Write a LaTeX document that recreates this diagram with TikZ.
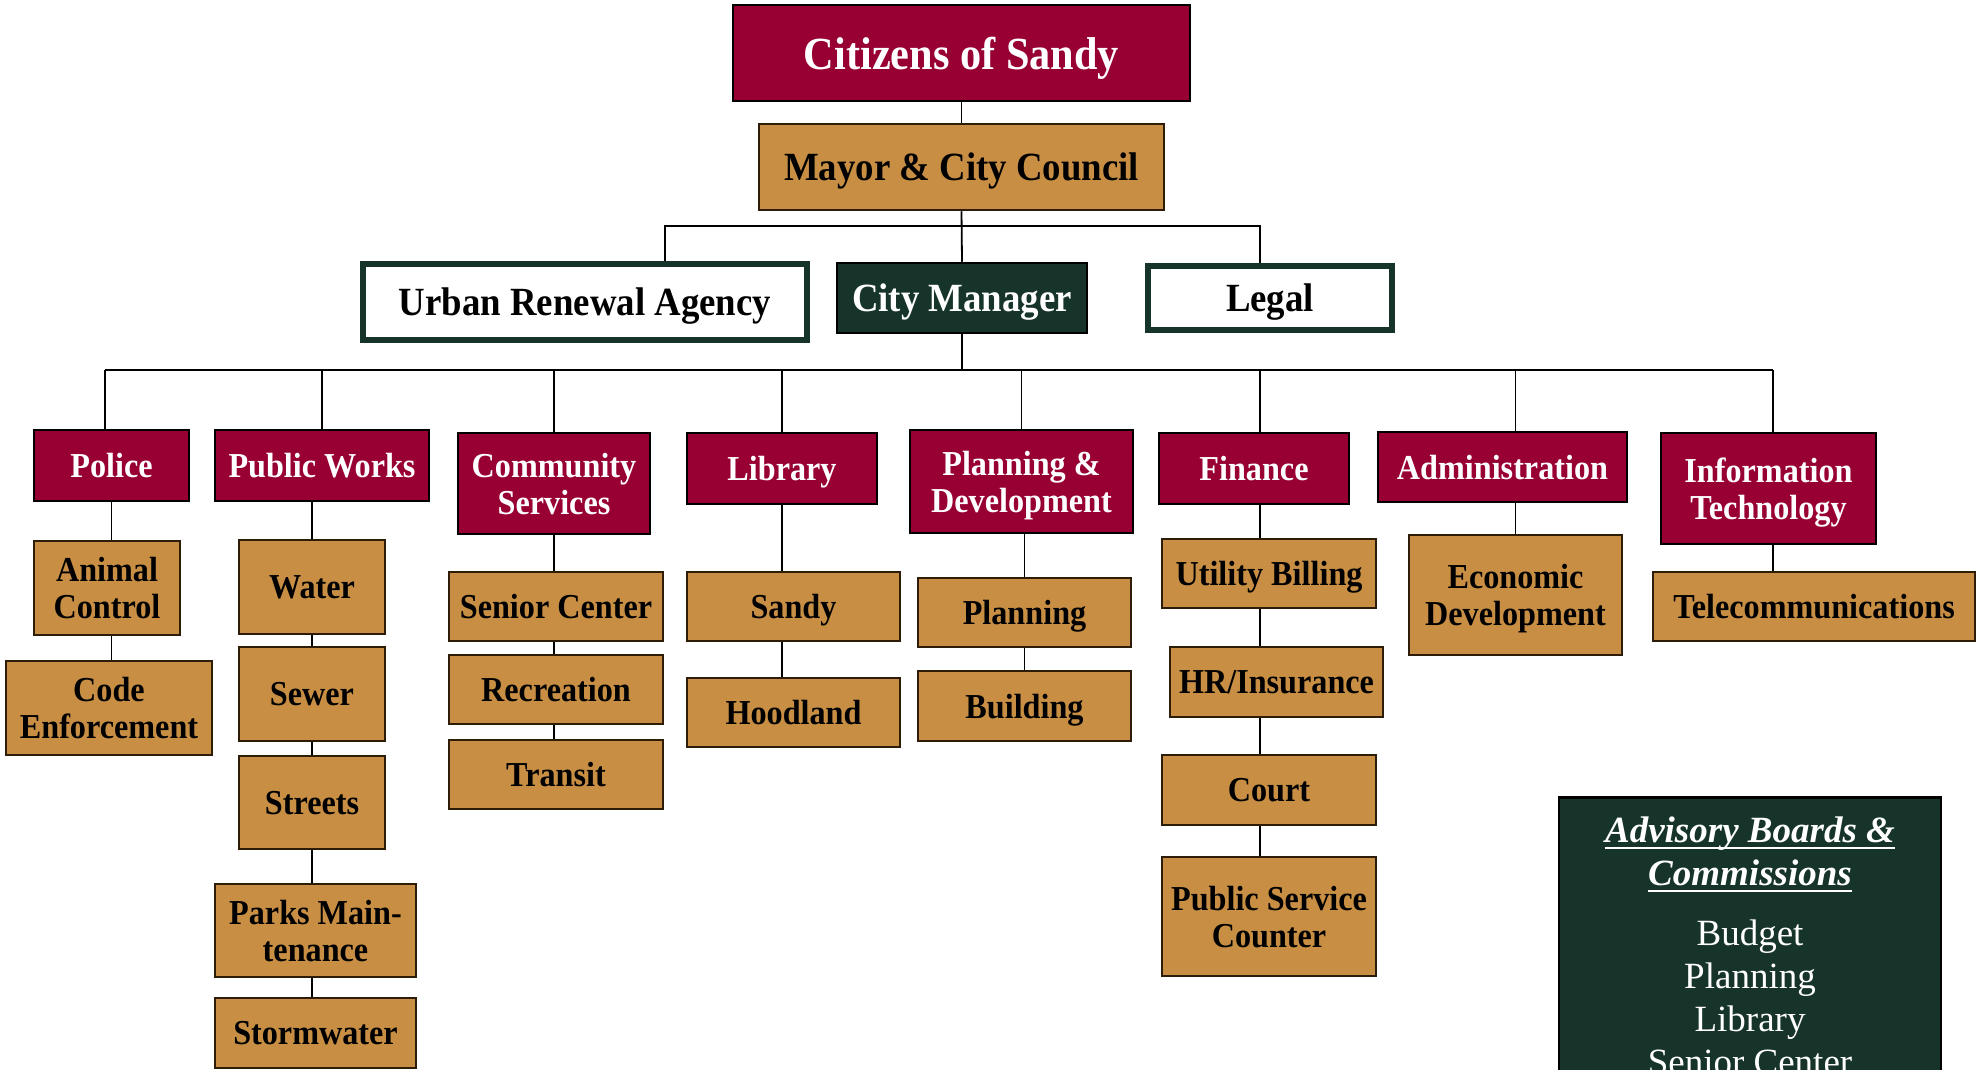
\documentclass[tikz,border=0pt]{standalone}
\usepackage{fontspec}
\newfontfamily\orgfont{Liberation Serif}[FakeStretch=0.92]
\newfontfamily\advfont{Liberation Serif}

\definecolor{deptred}{RGB}{152,0,51}
\definecolor{unittan}{RGB}{200,143,68}
\definecolor{mgrgreen}{RGB}{23,52,43}
\definecolor{tanedge}{RGB}{45,28,8}

\tikzset{
  chartbox/.style={rectangle, inner sep=0pt, align=center, text depth=0pt},
  toptitle/.style={chartbox, draw=black, line width=2.5pt, fill=deptred, text=white,
    font=\orgfont\bfseries\fontsize{46}{52}\selectfont},
  council/.style={chartbox, draw=tanedge, line width=2.5pt, fill=unittan, text=black,
    font=\orgfont\bfseries\fontsize{40}{46}\selectfont},
  outlined/.style={chartbox, draw=mgrgreen, line width=6pt, fill=white, text=black,
    font=\orgfont\bfseries\fontsize{40}{46}\selectfont},
  manager/.style={chartbox, draw=black, line width=2.5pt, fill=mgrgreen, text=white,
    font=\orgfont\bfseries\fontsize{40}{46}\selectfont},
  dept/.style={chartbox, draw=black, line width=2.5pt, fill=deptred, text=white,
    font=\orgfont\bfseries\fontsize{35}{37}\selectfont},
  unit/.style={chartbox, draw=tanedge, line width=2.2pt, fill=unittan, text=black,
    font=\orgfont\bfseries\fontsize{35}{37}\selectfont},
  advisory/.style={rectangle, inner sep=0pt, draw=black, line width=2.5pt, fill=mgrgreen},
  advhead/.style={anchor=base, inner sep=0pt, text=white,
    font=\advfont\bfseries\itshape\fontsize{37}{43}\selectfont},
  advitem/.style={anchor=base, inner sep=0pt, text=white,
    font=\advfont\fontsize{37}{43}\selectfont},
  headrule/.style={draw=white, line width=2.6pt},
  link/.style={draw=black, line width=1.8pt},
}

\begin{document}
\begin{tikzpicture}[x=1pt, y=-1pt]
\useasboundingbox (0,0) rectangle (1979,1070);
\clip (0,0) rectangle (1979,1070);

% top of the chart
\node[toptitle, minimum width=457pt, minimum height=96pt] (citizens) at (961.5,53) {Citizens of Sandy};
\node[council, minimum width=405pt, minimum height=86pt] (mayor) at (961.5,167) {Mayor \& City Council};
\node[outlined, minimum width=444pt, minimum height=76pt] (urban) at (585,302) {Urban Renewal Agency};
\node[manager, minimum width=250pt, minimum height=70pt] (cm) at (962,298) {City Manager};
\node[outlined, minimum width=244pt, minimum height=64pt] (legal) at (1270,298) {Legal};

% departments
\node[dept, minimum width=155pt, minimum height=71pt] (police) at (111.5,465.5) {Police};
\node[dept, minimum width=214pt, minimum height=71pt] (pw) at (322,465.5) {Public Works};
\node[dept, minimum width=192pt, minimum height=101pt] (cs) at (554,483.5) {Community\\Services};
\node[dept, minimum width=190pt, minimum height=71pt] (lib) at (782,468.5) {Library};
\node[dept, minimum width=223pt, minimum height=103pt] (pd) at (1021.5,481.5) {Planning \&\\Development};
\node[dept, minimum width=190pt, minimum height=71pt] (fin) at (1254,468.5) {Finance};
\node[dept, minimum width=249pt, minimum height=70pt] (admin) at (1502.5,467) {Administration};
\node[dept, minimum width=215pt, minimum height=111pt] (it) at (1768.5,488.5) {Information\\Technology};

% police units
\node[unit, minimum width=146pt, minimum height=94pt] (animal) at (107,588) {Animal\\Control};
\node[unit, minimum width=206pt, minimum height=94pt] (code) at (109,708) {Code\\Enforcement};

% public works units
\node[unit, minimum width=146pt, minimum height=94pt] (water) at (312,587) {Water};
\node[unit, minimum width=146pt, minimum height=94pt] (sewer) at (312,694) {Sewer};
\node[unit, minimum width=146pt, minimum height=93pt] (streets) at (312,802.5) {Streets};
\node[unit, minimum width=201pt, minimum height=93pt] (parks) at (315.5,930.5) {Parks Main-\\tenance};
\node[unit, minimum width=201pt, minimum height=70pt] (storm) at (315.5,1033) {Stormwater};

% community services units
\node[unit, minimum width=214pt, minimum height=69pt] (senior) at (556,606.5) {Senior Center};
\node[unit, minimum width=214pt, minimum height=69pt] (recreation) at (556,689.5) {Recreation};
\node[unit, minimum width=214pt, minimum height=69pt] (transit) at (556,774.5) {Transit};

% library units
\node[unit, minimum width=213pt, minimum height=69pt] (sandy) at (793.5,606.5) {Sandy};
\node[unit, minimum width=213pt, minimum height=69pt] (hoodland) at (793.5,712.5) {Hoodland};

% planning units
\node[unit, minimum width=213pt, minimum height=69pt] (planning) at (1024.5,612.5) {Planning};
\node[unit, minimum width=213pt, minimum height=70pt] (building) at (1024.5,706) {Building};

% finance units
\node[unit, minimum width=214pt, minimum height=69pt] (billing) at (1269,573.5) {Utility Billing};
\node[unit, minimum width=213pt, minimum height=70pt] (hr) at (1276.5,682) {HR/Insurance};
\node[unit, minimum width=214pt, minimum height=70pt] (court) at (1269,790) {Court};
\node[unit, minimum width=214pt, minimum height=119pt] (psc) at (1269,916.5) {Public Service\\Counter};

% administration and IT units
\node[unit, minimum width=213pt, minimum height=120pt] (econ) at (1515.5,595) {Economic\\Development};
\node[unit, minimum width=322pt, minimum height=69pt] (telecom) at (1814,606.5) {Telecommunications};

% advisory boards panel (runs past the lower edge)
\node[advisory, minimum width=382pt, minimum height=300pt, anchor=north] (adv) at (1750,796) {};
\node[advhead] (advh1) at (1750,842) {Advisory Boards \&};
\node[advhead] (advh2) at (1750,885) {Commissions};
\draw[headrule] ([yshift=-6pt]advh1.base west) -- ([yshift=-6pt]advh1.base east);
\draw[headrule] ([yshift=-6pt]advh2.base west) -- ([yshift=-6pt]advh2.base east);
\node[advitem] (budget) at (1750,945) {Budget};
\node[advitem] (planbd) at (1750,988) {Planning};
\node[advitem] (libbd) at (1750,1031) {Library};
\node[advitem] (seniorbd) at (1750,1074) {Senior Center};

% connectors: top levels
\coordinate (ujoin) at (665,226);
\coordinate (ljoin) at (1260,226);
\draw[link] (citizens.south) -- (mayor.north);
\draw[link] (mayor.south) -- (cm.north);
\draw[link] (ujoin |- urban.north) -- (ujoin) -- (ljoin) -- (ljoin |- legal.north);

% connectors: department bus
\coordinate (busl) at (105,370);
\coordinate (busr) at (1773,370);
\draw[link] (busl) -- (busr);
\draw[link] (cm.south) -- (cm.south |- busl);
\draw[link] (busl) -- (busl |- police.north);
\draw[link] (pw.north) -- (pw.north |- busl);
\draw[link] (cs.north) -- (cs.north |- busl);
\draw[link] (lib.north) -- (lib.north |- busl);
\draw[link] (pd.north) -- (pd.north |- busl);
\draw[link] (fin.north -| ljoin) -- (ljoin |- busl);
\draw[link] (admin.north -| econ.north) -- (econ.north |- busl);
\draw[link] (busr) -- (busr |- it.north);

% connectors: units
\draw[link] (police.south) -- (police.south |- animal.north);
\draw[link] (animal.south -| police.south) -- (police.south |- code.north);

\draw[link] (pw.south -| water.north) -- (water.north);
\draw[link] (water.south) -- (sewer.north);
\draw[link] (sewer.south) -- (streets.north);
\draw[link] (streets.south) -- (streets.south |- parks.north);
\draw[link] (parks.south -| streets.south) -- (streets.south |- storm.north);

\draw[link] (cs.south) -- (cs.south |- senior.north);
\draw[link] (senior.south -| cs.south) -- (cs.south |- recreation.north);
\draw[link] (recreation.south -| cs.south) -- (cs.south |- transit.north);

\draw[link] (lib.south) -- (lib.south |- sandy.north);
\draw[link] (sandy.south -| lib.south) -- (lib.south |- hoodland.north);

\draw[link] (pd.south -| planning.north) -- (planning.north);
\draw[link] (planning.south) -- (building.north);

\draw[link] (fin.south -| ljoin) -- (ljoin |- billing.north);
\draw[link] (billing.south -| ljoin) -- (ljoin |- hr.north);
\draw[link] (hr.south -| ljoin) -- (ljoin |- court.north);
\draw[link] (court.south -| ljoin) -- (ljoin |- psc.north);

\draw[link] (admin.south -| econ.north) -- (econ.north);
\draw[link] (it.south -| busr) -- (busr |- telecom.north);
\end{tikzpicture}
\end{document}
